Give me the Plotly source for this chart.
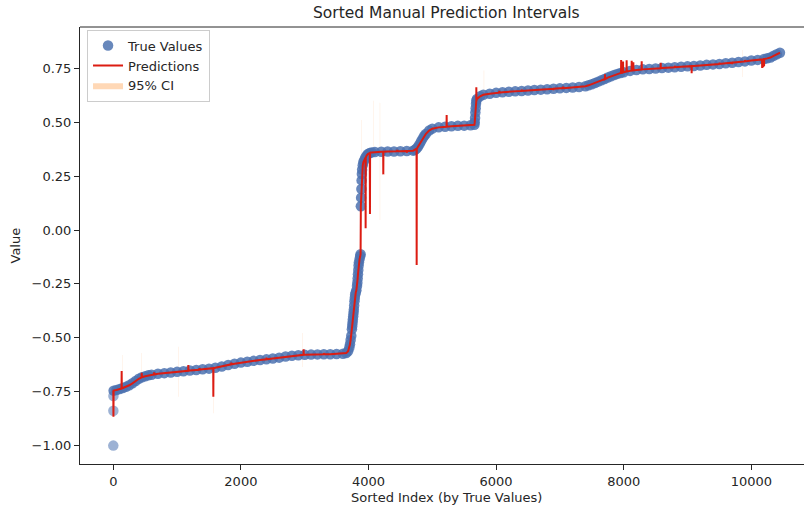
import plotly.graph_objects as go

# ---------------- data ----------------
true_index = [0, 1, 2, 5, 50, 100, 150, 200, 250, 300, 350, 400, 450, 500, 550, 600,
              700, 800, 900, 1000, 1100, 1200, 1300, 1400, 1500, 1600, 1700, 1800, 1900,
              2000, 2100, 2200, 2300, 2400, 2500, 2600, 2700, 2800, 2900, 3000, 3100,
              3200, 3300, 3400, 3500, 3600, 3650, 3680, 3700, 3710, 3720, 3730, 3740,
              3745, 3750, 3755, 3760, 3765, 3770, 3775, 3780, 3785, 3790, 3800, 3810,
              3820, 3825, 3830, 3835, 3840, 3845, 3850, 3860, 3870, 3876,
              3880, 3884, 3888, 3892, 3896, 3900, 3910, 3920, 3935, 3950, 3970, 3990,
              4020, 4050, 4100, 4200, 4300, 4400, 4500, 4600, 4700, 4725, 4750, 4775,
              4800, 4825, 4850, 4875, 4900, 4950, 5000, 5100, 5200, 5300, 5400, 5500,
              5600, 5660, 5665, 5670, 5675, 5680, 5685, 5690, 5700, 5750, 5800, 5900,
              6000, 6100, 6200, 6300, 6400, 6500, 6600, 6700, 6800, 6900, 7000, 7100,
              7200, 7300, 7400, 7450, 7500, 7550, 7600, 7650, 7700, 7750, 7800, 7850,
              7900, 7950, 8000, 8100, 8200, 8300, 8400, 8500, 8600, 8700, 8800, 8900,
              9000, 9100, 9200, 9300, 9400, 9500, 9600, 9700, 9800, 9900, 10000, 10100,
              10200, 10250, 10300, 10350, 10400, 10449]
true_value = [-1.000, -0.838, -0.770, -0.745, -0.742, -0.738, -0.733, -0.727, -0.720,
              -0.711, -0.700, -0.690, -0.683, -0.678, -0.674, -0.671, -0.667, -0.664,
              -0.661, -0.658, -0.655, -0.652, -0.649, -0.646, -0.643, -0.639, -0.633,
              -0.626, -0.620, -0.615, -0.611, -0.607, -0.603, -0.600, -0.596, -0.592,
              -0.587, -0.583, -0.581, -0.579, -0.578, -0.577, -0.576, -0.576, -0.575,
              -0.574, -0.571, -0.562, -0.545, -0.530, -0.510, -0.490, -0.460,
              -0.445, -0.430, -0.415, -0.400, -0.385, -0.370, -0.350, -0.330, -0.315,
              -0.300, -0.290, -0.280, -0.260, -0.245, -0.225, -0.205, -0.185, -0.165,
              -0.150, -0.135, -0.122, -0.112,
              0.110, 0.150, 0.190, 0.230, 0.260, 0.280, 0.300, 0.315, 0.325, 0.335,
              0.345, 0.352, 0.357, 0.360, 0.362, 0.363, 0.364, 0.364, 0.365, 0.366,
              0.368, 0.371, 0.377, 0.386, 0.398, 0.412, 0.425, 0.437, 0.446, 0.461,
              0.470, 0.476, 0.479, 0.481, 0.483, 0.484, 0.486, 0.488, 0.500, 0.520,
              0.545, 0.565, 0.585, 0.600, 0.608, 0.620, 0.627, 0.632, 0.636, 0.639,
              0.641, 0.643, 0.645, 0.647, 0.649, 0.651, 0.653, 0.655, 0.657, 0.659,
              0.661, 0.663, 0.667, 0.671, 0.676, 0.682, 0.688, 0.694, 0.700, 0.707,
              0.713, 0.719, 0.724, 0.728, 0.732, 0.738, 0.742, 0.745, 0.747, 0.749,
              0.751, 0.753, 0.755, 0.757, 0.759, 0.761, 0.763, 0.766, 0.768, 0.770,
              0.773, 0.776, 0.779, 0.782, 0.786, 0.789, 0.793, 0.796, 0.800, 0.808,
              0.815, 0.822]

# prediction deviations from the true curve: index, predicted value, surrounding level
spike_index = [2, 131, 445, 640, 1176, 1350, 1568, 1850, 2400, 2983, 3300, 3955, 4023,
               4232, 4450, 4600, 4755, 5225, 5690, 6050, 6400, 6900, 7050, 7707, 7960,
               7975, 7990, 8046, 8125, 8151, 8282, 8580, 8800, 9065, 9500, 9700, 9900,
               10170, 10185, 10200]
spike_value = [-0.866, -0.654, -0.662, -0.660, -0.626, -0.640, -0.773, -0.615, -0.592,
               -0.553, -0.570, 0.008, 0.074, 0.258, 0.372, 0.358, -0.162, 0.533, 0.662,
               0.645, 0.652, 0.648, 0.665, 0.722, 0.788, 0.765, 0.782, 0.787, 0.785,
               0.778, 0.783, 0.776, 0.762, 0.727, 0.777, 0.769, 0.789, 0.752, 0.755,
               0.760]
spike_base = [-0.745, -0.735, -0.684, -0.670, -0.653, -0.648, -0.641, -0.623, -0.600,
              -0.579, -0.576, 0.335, 0.357, 0.363, 0.365, 0.366, 0.377, 0.479, 0.600,
              0.637, 0.645, 0.655, 0.658, 0.700, 0.729, 0.730, 0.731, 0.735, 0.739,
              0.740, 0.744, 0.750, 0.755, 0.760, 0.770, 0.776, 0.782, 0.791, 0.792,
              0.793]

# visible (wide) confidence intervals
ci_index = [140, 440, 1020, 1570, 2960, 3893, 4080, 4180, 5810, 9865]
ci_low = [-0.750, -0.665, -0.773, -0.850, -0.635, 0.120, 0.360, 0.046, 0.620, 0.710]
ci_high = [-0.580, -0.570, -0.541, -0.640, -0.478, 0.510, 0.600, 0.590, 0.740, 0.835]

x_ticks = [0, 2000, 4000, 6000, 8000, 10000]
y_ticks = [-1.00, -0.75, -0.50, -0.25, 0.00, 0.25, 0.50, 0.75]

assert len(true_index) == len(true_value)

# ---------------- build series ----------------
pts = [(i, v) for i, v in zip(true_index, true_value) if i >= 5]
for s, v, b in zip(spike_index, spike_value, spike_base):
    pts += [(s - 2, b), (s, v), (s + 2, b)]
pts.sort(key=lambda p: p[0])
pred_x = [p[0] for p in pts]
pred_y = [p[1] for p in pts]

ci_x, ci_y = [], []
for s, lo, hi in zip(ci_index, ci_low, ci_high):
    ci_x += [s - 2, s + 2, s + 2, s - 2, s - 2, None]
    ci_y += [lo, lo, hi, hi, lo, None]

FONT = "DejaVu Sans"
INK = "#262626"

fig = go.Figure()
fig.add_trace(go.Scatter(
    x=ci_x, y=ci_y, mode="lines", fill="toself", line=dict(width=0),
    fillcolor="rgba(255,127,14,0.3)", name="95% CI", legendrank=3, hoverinfo="skip"))
opac = [0.55 if i < 5 else 0.85 for i in true_index]
fig.add_trace(go.Scatter(
    x=true_index, y=true_value, mode="markers", name="True Values", legendrank=1,
    marker=dict(size=10.5, color="rgb(76,114,176)", opacity=opac, line=dict(width=0))))
fig.add_trace(go.Scatter(
    x=pred_x, y=pred_y, mode="lines", name="Predictions", legendrank=2,
    line=dict(color="rgb(220,28,18)", width=2)))

axis_common = dict(showgrid=False, zeroline=False, showline=True, linecolor=INK,
                   linewidth=1, ticks="outside", ticklen=5, tickwidth=1,
                   tickcolor=INK, tickfont=dict(family=FONT, size=13, color=INK))
fig.update_xaxes(range=[-522, 10826], tickvals=x_ticks, tickformat="d", **axis_common)
fig.update_yaxes(range=[-1.0853, 0.9415], tickvals=y_ticks, tickformat=".2f",
                 **axis_common)

fig.update_layout(
    width=804, height=509,
    margin=dict(l=80, r=0, t=27, b=45),
    plot_bgcolor="white", paper_bgcolor="white",
    font=dict(family=FONT, size=13, color=INK),
    showlegend=True,
    legend=dict(x=0.0097, y=0.994, xanchor="left", yanchor="top",
                bgcolor="rgba(255,255,255,0.8)", bordercolor="#cccccc", borderwidth=1,
                font=dict(family=FONT, size=13, color=INK), tracegroupgap=0),
    shapes=[dict(type="line", xref="paper", yref="paper", x0=0, x1=1, y0=1, y1=1,
                 line=dict(color=INK, width=1))],
    annotations=[
        dict(text="Sorted Manual Prediction Intervals", xref="paper", yref="paper",
             x=0.5062, y=1.032, xanchor="center", yanchor="middle", showarrow=False,
             font=dict(family=FONT, size=15.5, color=INK)),
        dict(text="Sorted Index (by True Values)", xref="paper", yref="paper",
             x=0.5062, y=-0.0778, xanchor="center", yanchor="middle", showarrow=False,
             font=dict(family=FONT, size=13, color=INK)),
        dict(text="Value", xref="paper", yref="paper", x=-0.0884, y=0.5,
             xanchor="center", yanchor="middle", textangle=-90, showarrow=False,
             font=dict(family=FONT, size=13, color=INK)),
    ],
)

fig.write_html(
    "out.html",
    config={"displayModeBar": False},
    post_script="document.body.style.margin='0';document.body.style.overflow='hidden';",
)
